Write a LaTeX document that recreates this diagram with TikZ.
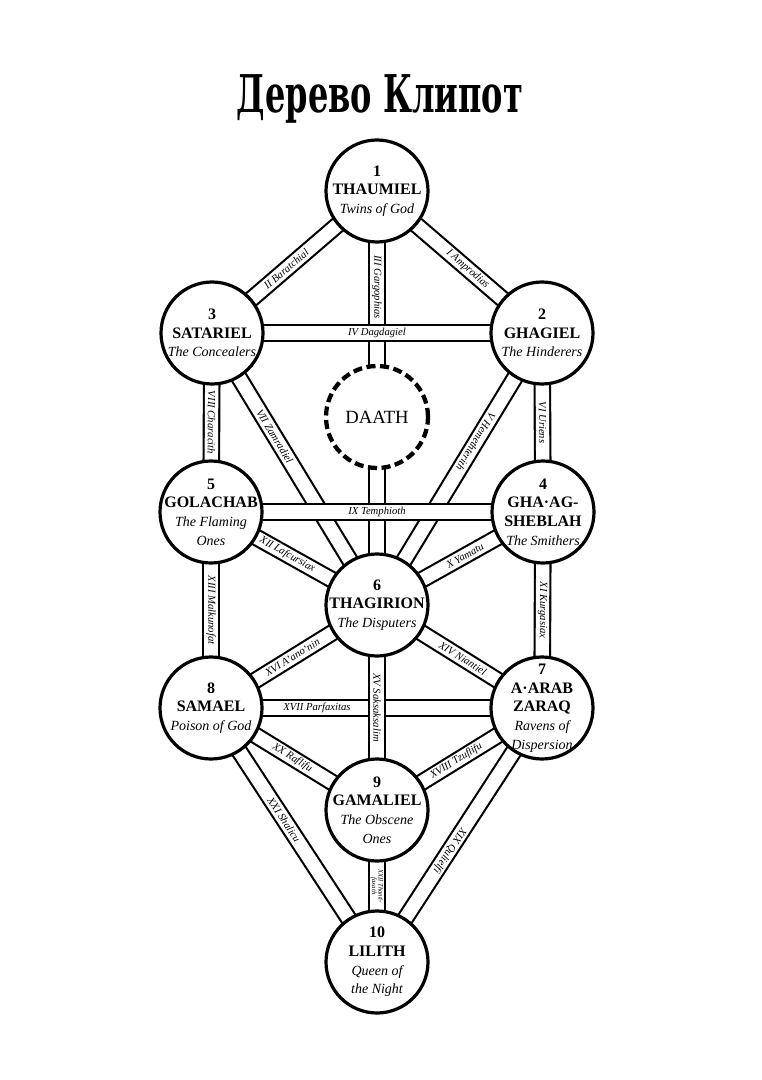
\documentclass[tikz,border=0pt]{standalone}
\usepackage{fontspec}
\setmainfont{Liberation Serif}
\newfontfamily\titlefont{DejaVu Serif}
\usetikzlibrary{backgrounds}

\newcommand\epith[1]{{\mdseries\itshape\fontsize{10.5}{13}\selectfont #1}}

\begin{document}
\begin{tikzpicture}[
  x=0.75pt, y=-0.75pt,
  sefira/.style={circle, draw, line width=2.4pt, fill=white, minimum size=76.5pt, inner sep=0pt},
  sefname/.style={align=center, inner sep=0pt, font=\fontsize{12}{14}\selectfont\bfseries},
  daathring/.style={circle, draw, line width=3.2pt, dash pattern=on 6.8pt off 3.4pt, fill=white,
    minimum size=76.5pt, inner sep=0pt, font=\fontsize{14}{14}\selectfont},
  tunnel/.style={double, double distance=10pt, line width=1.6pt},
  tname/.style={font=\fontsize{8}{8}\selectfont\itshape, sloped, allow upside down, inner sep=0pt}
]
\useasboundingbox (0,0) rectangle (761,1080);

\node[font=\titlefont\bfseries\fontsize{30}{30}\selectfont] (title) at (380,99)
  {\scalebox{0.8}[1.3]{Дерево Клипот}};

% the spheres
\node[sefira, label={[sefname]center:{1\\THAUMIEL\\\epith{Twins of God}}}] (thaumiel) at (377,191) {};
\node[sefira, label={[sefname]center:{3\\SATARIEL\\\epith{The Concealers}}}] (satariel) at (212,333) {};
\node[sefira, label={[sefname]center:{2\\GHAGIEL\\\epith{The Hinderers}}}] (ghagiel) at (542,333) {};
\node[daathring] (daath) at (377,417) {DAATH};
\node[sefira, label={[sefname]center:{5\\GOLACHAB\\\epith{The Flaming}\\\epith{Ones}}}] (golachab) at (211,512) {};
\node[sefira, label={[sefname]center:{4\\GHA·AG-\\SHEBLAH\\\epith{The Smithers}}}] (ghaagsheblah) at (543,512) {};
\node[sefira, label={[sefname]center:{6\\THAGIRION\\\epith{The Disputers}}}] (thagirion) at (377,605) {};
\node[sefira, label={[sefname]center:{8\\SAMAEL\\\epith{Poison of God}}}] (samael) at (211,708) {};
\node[sefira, label={[sefname]center:{7\\A·ARAB\\ZARAQ\\\epith{Ravens of}\\\epith{Dispersion}}}] (aarab) at (542,708) {};
\node[sefira, label={[sefname]center:{9\\GAMALIEL\\\epith{The Obscene}\\\epith{Ones}}}] (gamaliel) at (377,810) {};
\node[sefira, label={[sefname]center:{10\\LILITH\\\epith{Queen of}\\\epith{the Night}}}] (lilith) at (377,962) {};

% the tunnels, behind the spheres
\begin{scope}[on background layer]
\draw[tunnel] (thaumiel.center) -- node[tname, pos=0.232] {III Gargophias} (thagirion.center);
\draw[tunnel] (satariel.center) -- node[tname, pos=0.45] {II Baratchial} (thaumiel.center);
\draw[tunnel] (thaumiel.center) -- node[tname, pos=0.55] {I Amprodias} (ghagiel.center);
\draw[tunnel] (satariel.center) -- node[tname] {IV Dagdagiel} (ghagiel.center);
\draw[tunnel] (satariel.center) -- node[tname, pos=0.38] {VII Zamradiel} (thagirion.center);
\draw[tunnel] (ghagiel.center) -- node[tname, pos=0.40] {V Hemethterith} (thagirion.center);
\draw[tunnel] (satariel.center) -- node[tname] {VIII Characith} (golachab.center);
\draw[tunnel] (ghagiel.center) -- node[tname] {VI Uriens} (ghaagsheblah.center);
\draw[tunnel] (golachab.center) -- node[tname] {IX Temphioth} (ghaagsheblah.center);
\draw[tunnel] (golachab.center) -- node[tname, pos=0.46] {XII Lafcursiax} (thagirion.center);
\draw[tunnel] (thagirion.center) -- node[tname, pos=0.53] {X Yamatu} (ghaagsheblah.center);
\draw[tunnel] (golachab.center) -- node[tname] {XIII Malkunofat} (samael.center);
\draw[tunnel] (ghaagsheblah.center) -- node[tname] {XI Kurgasiax} (aarab.center);
\draw[tunnel] (samael.center) -- node[tname, pos=0.49] {XVI A'ano'nin} (thagirion.center);
\draw[tunnel] (thagirion.center) -- node[tname, pos=0.52] {XIV Niantiel} (aarab.center);
\draw[tunnel] (samael.center) -- node[tname, pos=0.32] {XVII Parfaxitas} (aarab.center);
\draw[tunnel] (thagirion.center) -- node[tname] {XV Saksaksalim} (gamaliel.center);
\draw[tunnel] (samael.center) -- node[tname, pos=0.49] {XX Raflifu} (gamaliel.center);
\draw[tunnel] (gamaliel.center) -- node[tname, pos=0.48] {XVIII Tzuflifu} (aarab.center);
\draw[tunnel] (samael.center) -- node[tname, pos=0.44] {XXI Shalicu} (lilith.center);
\draw[tunnel] (aarab.center) -- node[tname, pos=0.56] {XIX Qulielfi} (lilith.center);
\draw[tunnel] (gamaliel.center) -- node[tname, align=center, font=\fontsize{5}{5}\selectfont\itshape]
  {XXII Thanti-\\faxath} (lilith.center);
\end{scope}
\end{tikzpicture}
\end{document}
